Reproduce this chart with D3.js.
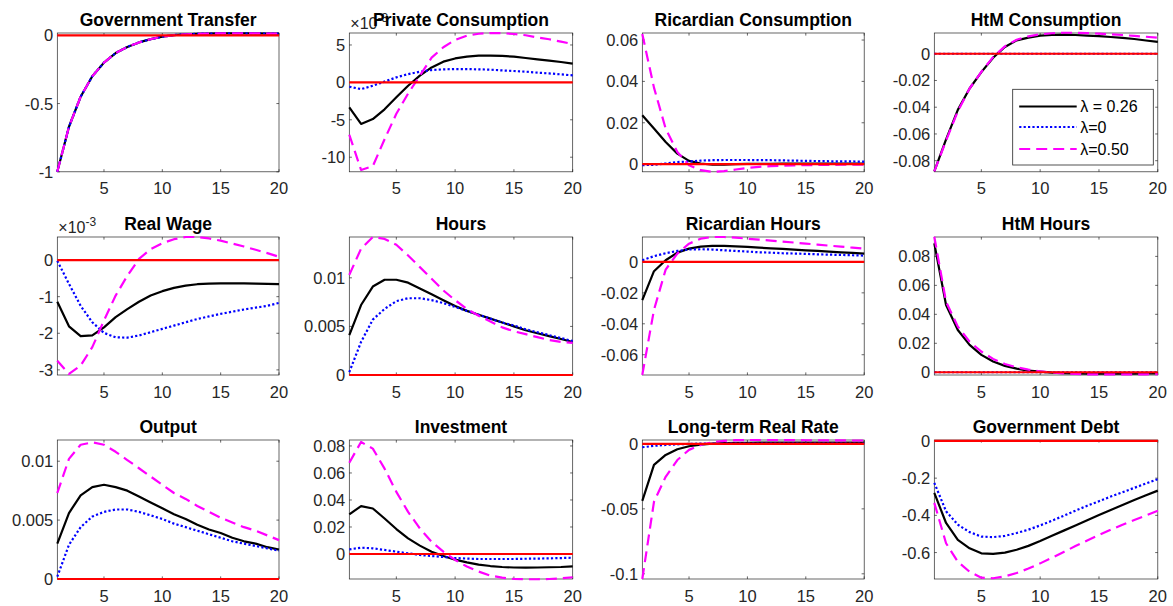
<!DOCTYPE html>
<html><head><meta charset="utf-8">
<script src="https://cdn.jsdelivr.net/npm/d3@7"></script>
<style>
body{margin:0;background:#fff}
svg{display:block}
text{font-family:"Liberation Sans",Arial,Helvetica,sans-serif}
</style>
</head><body>
<svg id="chart" width="1173" height="606"></svg>
<script>
// ---------------- DATA ----------------
const periods = [1,2,3,4,5,6,7,8,9,10,11,12,13,14,15,16,17,18,19,20];
const zeroLine = [0,0,0,0,0,0,0,0,0,0,0,0,0,0,0,0,0,0,0,0];
const seriesNames = ["\u03bb = 0.26", "\u03bb=0", "\u03bb=0.50"];
const titles = ["Government Transfer","Private Consumption","Ricardian Consumption","HtM Consumption",
  "Real Wage","Hours","Ricardian Hours","HtM Hours",
  "Output","Investment","Long-term Real Rate","Government Debt"];

// Government Transfer
const gtBase = [-1,-0.67,-0.45,-0.30,-0.20,-0.13,-0.085,-0.052,-0.028,-0.01,0.002,0.008,0.011,0.013,0.014,0.014,0.014,0.014,0.013,0.013];
const gtZero = [-1,-0.67,-0.45,-0.30,-0.20,-0.13,-0.085,-0.052,-0.028,-0.01,0.002,0.008,0.011,0.013,0.014,0.014,0.014,0.014,0.013,0.013];
const gtHalf = [-1,-0.67,-0.45,-0.30,-0.20,-0.13,-0.085,-0.052,-0.028,-0.01,0.002,0.008,0.011,0.013,0.014,0.014,0.014,0.014,0.013,0.013];
// Private Consumption (x 1e-3)
const pcBase = [-3.35,-5.55,-4.9,-3.6,-2.0,-0.45,0.9,2.0,2.77,3.2,3.44,3.57,3.58,3.53,3.44,3.26,3.08,2.9,2.72,2.5];
const pcZero = [-0.58,-0.9,-0.45,0.1,0.67,1.1,1.43,1.65,1.74,1.78,1.78,1.74,1.7,1.6,1.52,1.43,1.3,1.2,1.07,0.94];
const pcHalf = [-7.0,-11.7,-11.2,-7.6,-4.2,-1.5,0.9,3.3,4.7,5.67,6.25,6.5,6.6,6.57,6.47,6.3,6.0,5.76,5.45,5.13];
// Ricardian Consumption
const rcBase = [0.0236,0.0172,0.0107,0.0051,0.0016,0.0003,-0.0002,-0.0002,0,0.0001,0.0002,0.0002,0.0003,0.0003,0.0003,0.0003,0.0003,0.0003,0.0003,0.0003];
const rcZero = [-0.0005,-0.0003,0.0003,0.001,0.0013,0.0017,0.0019,0.002,0.002,0.002,0.0019,0.0019,0.0018,0.0017,0.0016,0.0015,0.0014,0.0013,0.0013,0.0012];
const rcHalf = [0.0629,0.037,0.0172,0.0059,-0.0005,-0.0029,-0.0037,-0.0034,-0.0026,-0.0018,-0.0013,-0.001,-0.0008,-0.0006,-0.0005,-0.0004,-0.0004,-0.0003,-0.0003,-0.0003];
// HtM Consumption
const hcBase = [-0.088,-0.064,-0.042,-0.026,-0.0138,-0.003,0.005,0.01,0.012,0.0135,0.014,0.0143,0.014,0.0135,0.0131,0.0125,0.0118,0.011,0.0099,0.0088];
const hcZero = [0,0,0,0,0,0,0,0,0,0,0,0,0,0,0,0,0,0,0,0];
const hcHalf = [-0.088,-0.065,-0.043,-0.026,-0.0135,-0.0025,0.0055,0.0105,0.013,0.0145,0.0153,0.0157,0.0157,0.0154,0.015,0.0145,0.014,0.0133,0.0127,0.012];
// Real Wage (x 1e-3)
const rwBase = [-1.14,-1.81,-2.08,-2.06,-1.84,-1.56,-1.34,-1.14,-0.97,-0.85,-0.76,-0.7,-0.66,-0.645,-0.636,-0.636,-0.636,-0.645,-0.65,-0.66];
const rwZero = [-0.02,-0.65,-1.25,-1.7,-1.99,-2.11,-2.12,-2.06,-1.97,-1.88,-1.79,-1.7,-1.61,-1.54,-1.47,-1.41,-1.35,-1.3,-1.25,-1.17];
const rwHalf = [-2.75,-3.11,-2.88,-2.38,-1.65,-0.97,-0.43,0.03,0.3,0.46,0.57,0.63,0.63,0.59,0.53,0.45,0.37,0.28,0.19,0.09];
// Hours
const hoBase = [0.0041,0.0072,0.0091,0.0098,0.0098,0.0095,0.0089,0.0083,0.0077,0.0071,0.0066,0.0062,0.0058,0.0054,0.005,0.0046,0.0043,0.004,0.0037,0.0034];
const hoZero = [0.0003,0.0034,0.0057,0.0068,0.0076,0.0079,0.0079,0.0077,0.0074,0.007,0.0066,0.0062,0.0058,0.0054,0.0051,0.0047,0.0044,0.0041,0.0038,0.0035];
const hoHalf = [0.0103,0.013,0.0142,0.014,0.0134,0.0123,0.0111,0.0099,0.0087,0.0077,0.0068,0.0061,0.0055,0.0049,0.0045,0.0042,0.0039,0.0036,0.0034,0.0033];
// Ricardian Hours
const rhBase = [-0.0247,-0.006,0.0011,0.006,0.0086,0.0099,0.0103,0.0103,0.0101,0.0097,0.0092,0.0088,0.0084,0.008,0.0075,0.0071,0.0067,0.0062,0.0058,0.0054];
const rhZero = [0.0011,0.0037,0.0056,0.0071,0.008,0.0082,0.008,0.0075,0.0071,0.0067,0.0062,0.006,0.0056,0.0054,0.0052,0.0049,0.0047,0.0045,0.0043,0.0041];
const rhHalf = [-0.073,-0.031,-0.005,0.0054,0.0118,0.015,0.0161,0.0161,0.0157,0.015,0.0144,0.0138,0.0131,0.0125,0.0118,0.0112,0.0105,0.0099,0.0092,0.0086];
// HtM Hours
const hhBase = [0.089,0.0464,0.0292,0.0189,0.012,0.0074,0.0044,0.0025,0.0011,0.0004,-0.0002,-0.0006,-0.0008,-0.0009,-0.0009,-0.0009,-0.0009,-0.0009,-0.0008,-0.0008];
const hhZero = [0,0,0,0,0,0,0,0,0,0,0,0,0,0,0,0,0,0,0,0];
const hhHalf = [0.0936,0.0487,0.0315,0.0211,0.0143,0.0092,0.0057,0.0034,0.0018,0.0007,-0.0002,-0.0008,-0.0012,-0.0014,-0.0015,-0.0015,-0.0015,-0.0014,-0.0014,-0.0013];
// Output
const ouBase = [0.003,0.0056,0.0071,0.0078,0.008,0.0078,0.0075,0.007,0.0065,0.006,0.0055,0.0051,0.0046,0.0042,0.0039,0.0035,0.0032,0.003,0.0027,0.0025];
const ouZero = [0.0002,0.0029,0.0044,0.0053,0.0057,0.0059,0.0059,0.0057,0.0054,0.0051,0.0047,0.0044,0.0041,0.0038,0.0035,0.0032,0.003,0.0028,0.0026,0.0024];
const ouHalf = [0.0073,0.0102,0.0114,0.0116,0.0114,0.0108,0.0101,0.0094,0.0087,0.008,0.0073,0.0068,0.0062,0.0057,0.0052,0.0048,0.0044,0.0041,0.0037,0.0033];
// Investment
const inBase = [0.0293,0.0355,0.0337,0.0263,0.0185,0.0116,0.0062,0.0017,-0.0015,-0.0042,-0.0062,-0.0079,-0.0089,-0.0096,-0.01,-0.0101,-0.01,-0.0098,-0.0096,-0.0091];
const inZero = [0.0034,0.0047,0.0042,0.003,0.0017,0.0005,-0.0007,-0.0015,-0.0022,-0.003,-0.0034,-0.0037,-0.0037,-0.0037,-0.0037,-0.0035,-0.0034,-0.0032,-0.003,-0.0027];
const inHalf = [0.0676,0.0829,0.078,0.0632,0.046,0.0312,0.0189,0.0091,0.0017,-0.0044,-0.0093,-0.013,-0.016,-0.0175,-0.0185,-0.0187,-0.0187,-0.0185,-0.018,-0.0172];
// Long-term Real Rate
const lrBase = [-0.0438,-0.0162,-0.0085,-0.0041,-0.0018,-0.0005,0.0002,0.0006,0.0008,0.0009,0.001,0.001,0.001,0.001,0.001,0.001,0.001,0.001,0.001,0.001];
const lrZero = [-0.0026,-0.0015,-0.0008,-0.0003,0,0.0002,0.0003,0.0003,0.0003,0.0003,0.0003,0.0003,0.0003,0.0003,0.0003,0.0003,0.0003,0.0003,0.0003,0.0003];
const lrHalf = [-0.104,-0.0446,-0.0253,-0.0124,-0.0046,-0.0008,0.0013,0.0024,0.0029,0.003,0.003,0.003,0.0029,0.0029,0.0028,0.0028,0.0027,0.0027,0.0026,0.0026];
// Government Debt
const gdBase = [-0.279,-0.441,-0.532,-0.577,-0.604,-0.607,-0.6,-0.585,-0.564,-0.538,-0.51,-0.482,-0.454,-0.426,-0.398,-0.371,-0.344,-0.318,-0.292,-0.267];
const gdZero = [-0.225,-0.378,-0.45,-0.49,-0.514,-0.517,-0.51,-0.495,-0.477,-0.454,-0.429,-0.402,-0.375,-0.348,-0.324,-0.299,-0.276,-0.252,-0.229,-0.205];
const gdHalf = [-0.333,-0.55,-0.649,-0.703,-0.735,-0.738,-0.728,-0.71,-0.686,-0.658,-0.628,-0.597,-0.565,-0.535,-0.505,-0.477,-0.45,-0.425,-0.4,-0.375];

const yLimits = [[-1,0.017],[-11.95,6.6],[-0.0037,0.0634],[-0.0883,0.0155],
  [-3.14,0.63],[0,0.0142],[-0.0731,0.0161],[-0.0019,0.0934],
  [0,0.0118],[-0.0185,0.0844],[-0.104,0.003],[-0.742,0.005]];
const yTicks = [[-1,-0.5,0],[-10,-5,0,5],[0,0.02,0.04,0.06],[-0.08,-0.06,-0.04,-0.02,0],
  [-3,-2,-1,0],[0,0.005,0.01],[-0.06,-0.04,-0.02,0],[0,0.02,0.04,0.06,0.08],
  [0,0.005,0.01],[0,0.02,0.04,0.06,0.08],[-0.1,-0.05,0],[-0.6,-0.4,-0.2,0]];
const xTicks = [5,10,15,20];
const exponentPanels = [1,4];
const exponentLabel = "-3";

const panelSeries = [
  [gtBase,gtZero,gtHalf],[pcBase,pcZero,pcHalf],[rcBase,rcZero,rcHalf],[hcBase,hcZero,hcHalf],
  [rwBase,rwZero,rwHalf],[hoBase,hoZero,hoHalf],[rhBase,rhZero,rhHalf],[hhBase,hhZero,hhHalf],
  [ouBase,ouZero,ouHalf],[inBase,inZero,inHalf],[lrBase,lrZero,lrHalf],[gdBase,gdZero,gdHalf]];

// ---------------- LAYOUT / STYLE ----------------
const colL = [57.3, 349.3, 642.3, 934.3];
const colR = [279, 572.7, 864.2, 1157.8];
const rowT = [33, 237, 440];
const rowB = [171.8, 375, 579];
const styles = [
  {color:"#000000", width:2.2, dash:null},
  {color:"#0000ff", width:2.2, dash:"2.2,2.2"},
  {color:"#ff00ff", width:2.2, dash:"11,6"}
];
const tickColor = "#262626";
const fmt = v => (v === 0 ? "0" : String(+v.toPrecision(6)));

const svg = d3.select("#chart");
const defs = svg.append("defs");

panelSeries.forEach((ser, i) => {
  const c = i % 4, r = Math.floor(i / 4);
  const L = colL[c], R = colR[c], T = rowT[r], B = rowB[r];
  const x = d3.scaleLinear().domain([1,20]).range([L,R]);
  const y = d3.scaleLinear().domain(yLimits[i]).range([B,T]);
  const g = svg.append("g");

  defs.append("clipPath").attr("id","clip"+i).append("rect")
    .attr("x",L-2).attr("y",T-2).attr("width",R-L+4).attr("height",B-T+4);

  g.append("rect").attr("x",L).attr("y",T).attr("width",R-L).attr("height",B-T)
    .attr("fill","none").attr("stroke",tickColor).attr("stroke-width",0.7);

  const tl = 2.6;
  yTicks[i].forEach(t => {
    const yy = y(t);
    g.append("line").attr("x1",L).attr("x2",L+tl).attr("y1",yy).attr("y2",yy).attr("stroke",tickColor).attr("stroke-width",0.7);
    g.append("line").attr("x1",R).attr("x2",R-tl).attr("y1",yy).attr("y2",yy).attr("stroke",tickColor).attr("stroke-width",0.7);
    g.append("text").attr("x",L-4).attr("y",yy).attr("dy","0.36em").attr("text-anchor","end")
      .attr("font-size",16.5).attr("fill",tickColor).text(fmt(t));
  });
  xTicks.forEach(t => {
    const xx = x(t);
    g.append("line").attr("x1",xx).attr("x2",xx).attr("y1",B).attr("y2",B-tl).attr("stroke",tickColor).attr("stroke-width",0.7);
    g.append("line").attr("x1",xx).attr("x2",xx).attr("y1",T).attr("y2",T+tl).attr("stroke",tickColor).attr("stroke-width",0.7);
    g.append("text").attr("x",xx).attr("y",B+22.5).attr("text-anchor","middle")
      .attr("font-size",16.5).attr("fill",tickColor).text(String(t));
  });

  const line = d3.line().x((d,k) => x(periods[k])).y(d => y(d));
  const lg = g.append("g").attr("clip-path","url(#clip"+i+")");
  ser.forEach((s, k) => {
    const st = styles[k];
    const p = lg.append("path").datum(s).attr("d", line)
      .attr("fill","none").attr("stroke",st.color).attr("stroke-width",st.width)
      .attr("stroke-linejoin","round");
    if (st.dash) p.attr("stroke-dasharray",st.dash);
  });
  lg.append("path").datum(zeroLine).attr("d", line)
    .attr("fill","none").attr("stroke","#ff0000").attr("stroke-width",2.2);

  if (exponentPanels.includes(i)) {
    const et = g.append("text").attr("x",L+1).attr("y",T-4).attr("font-size",16).attr("fill",tickColor);
    et.append("tspan").text("\u00d710");
    et.append("tspan").attr("font-size",12).attr("dy",-7).text(exponentLabel);
  }

  g.append("text").attr("x",(L+R)/2).attr("y",T-7).attr("text-anchor","middle")
    .attr("font-size",17.5).attr("font-weight","bold").attr("fill","#000").text(titles[i]);

  if (i === 3) {
    const lx = 1012.7, ly = 89.3, lw = 140.6, lh = 75.7;
    const lgd = g.append("g");
    lgd.append("rect").attr("x",lx).attr("y",ly).attr("width",lw).attr("height",lh)
      .attr("fill","#fff").attr("stroke",tickColor).attr("stroke-width",0.8);
    const rowsY = [106.5, 127, 149];
    seriesNames.forEach((nm, k) => {
      const st = styles[k];
      const ln = lgd.append("line").attr("x1",lx+6.5).attr("x2",lx+64).attr("y1",rowsY[k]).attr("y2",rowsY[k])
        .attr("stroke",st.color).attr("stroke-width",st.width);
      if (st.dash) ln.attr("stroke-dasharray",st.dash);
      lgd.append("text").attr("x",lx+67.5).attr("y",rowsY[k]).attr("dy","0.36em")
        .attr("font-size",16).attr("fill","#000").text(nm);
    });
  }
});
</script>
</body></html>
